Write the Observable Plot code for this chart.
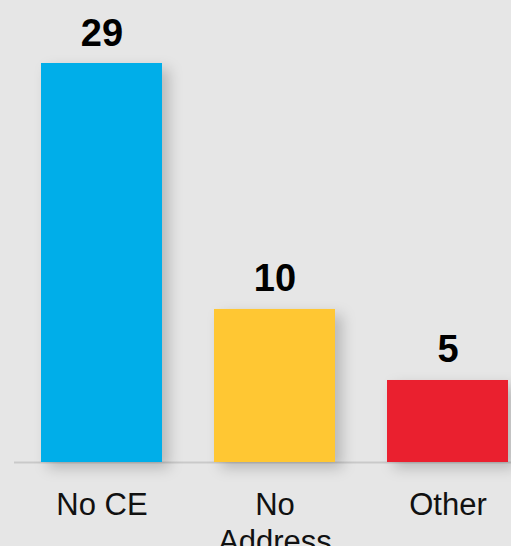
<!DOCTYPE html>
<html>
<head>
<meta charset="utf-8">
<script src="https://cdn.jsdelivr.net/npm/d3@7"></script>
<script src="https://cdn.jsdelivr.net/npm/@observablehq/plot@0.6"></script>
<style>
  html, body { margin: 0; padding: 0; background: #e6e6e6; overflow: hidden; }
  #chart svg g[aria-label="bar"] rect { filter: drop-shadow(7px 6px 7px rgba(0,0,0,0.2)); }
</style>
</head>
<body>
<div id="chart"></div>
<script>
const categories = ["No CE", "No Address", "Other"];
const values = [29, 10, 5];
const colors = ["#00aee9", "#ffc733", "#ea202f"];
const tickLabels = ["No CE", "No\nAddress", "Other"];

const data = categories.map((c, i) => ({cat: c, value: values[i], color: colors[i], label: tickLabels[i]}));

const chart = Plot.plot({
  width: 511,
  height: 546,
  marginLeft: 41,
  marginRight: 2,
  marginTop: 63,
  marginBottom: 84,
  style: {background: "#e6e6e6", fontFamily: "'Liberation Sans', Arial, sans-serif", overflow: "visible"},
  x: {domain: categories, paddingInner: 0.3, paddingOuter: 0, axis: null},
  y: {type: "pow", exponent: 0.9, domain: [0, 29], axis: null},
  marks: [
    Plot.ruleY([0], {stroke: "#c9c9c9", strokeWidth: 2, insetLeft: -27, insetRight: -2}),
    Plot.barY(data, {x: "cat", y: "value", fill: "color"}),
    Plot.text(data, {x: "cat", y: "value", text: d => String(d.value), lineAnchor: "bottom", dy: -18, fontSize: 38, fontWeight: "bold", fill: "#000"}),
    Plot.text(data, {x: "cat", y: () => 0, text: "label", lineAnchor: "top", dy: 27, fontSize: 31, lineHeight: 1.17, fill: "#111"})
  ]
});
document.getElementById("chart").append(chart);
</script>
</body>
</html>
